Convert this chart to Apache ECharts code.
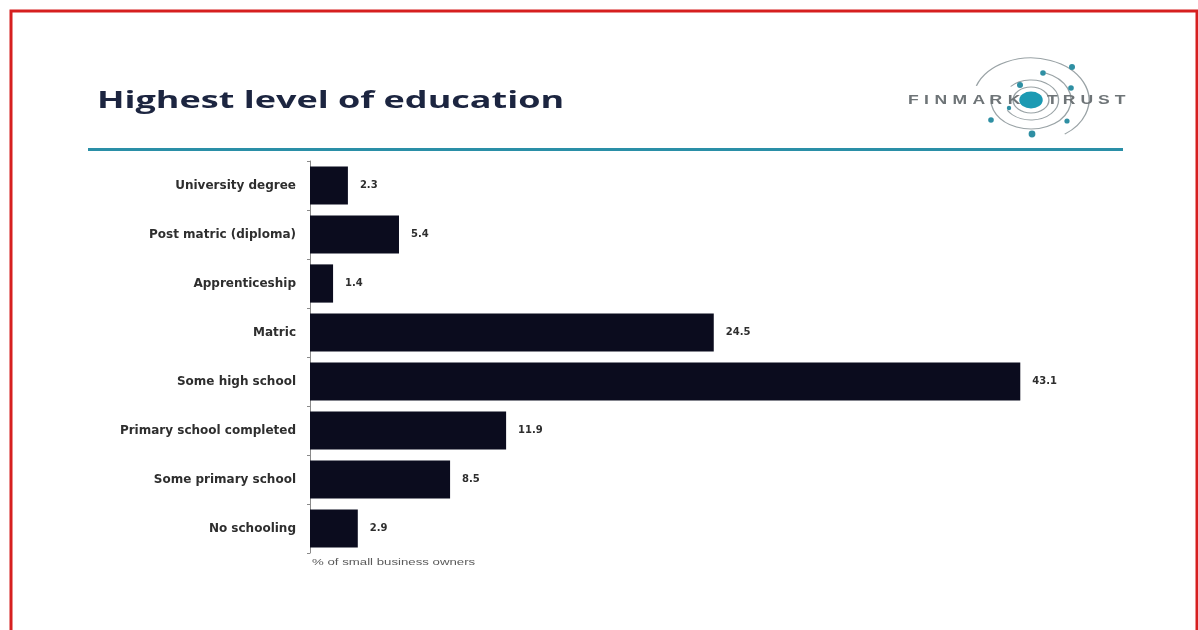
<!DOCTYPE html>
<html>
<head>
<meta charset="utf-8">
<script src="https://cdn.jsdelivr.net/npm/echarts@6/dist/echarts.min.js"></script>
<style>
  html, body { margin: 0; padding: 0; background: #ffffff; }
  #chart { width: 1198px; height: 630px; }
</style>
</head>
<body>
<div id="chart"></div>
<script>
// Education levels, top to bottom
const categories = [
  'University degree',
  'Post matric (diploma)',
  'Apprenticeship',
  'Matric',
  'Some high school',
  'Primary school completed',
  'Some primary school',
  'No schooling'
];
// Share of small business owners (%)
const shares = [2.3, 5.4, 1.4, 24.5, 43.1, 11.9, 8.5, 2.9];

const titleText = 'Highest level of education';
const axisNote = '% of small business owners';
const logoLeft = 'FINMARK';
const logoRight = 'TRUST';

const TEAL = '#2a8fa7';
const NAVY = '#0b0c1e';
const WIDE = 1.5; // horizontal stretch of the slide artwork

// Logo: spiral orbit rings around a filled dot, with satellites
const cx = 1031, cy = 100;
const ringArcs = [
  { r: 13, a0: 0, a1: Math.PI * 2 },
  { r: 20, a0: -2.4, a1: 2.6 },
  { r: 29, a0: -1.2, a1: 3.3 },
  { r: 42, a0: -2.8, a1: 0.95 }
].map(function (g) {
  return {
    type: 'arc',
    shape: { cx: 0, cy: 0, r: g.r, startAngle: g.a0, endAngle: g.a1 },
    style: { stroke: '#9aa3a6', lineWidth: 1, fill: null }
  };
});
const logoRings = {
  type: 'group', x: cx, y: cy, scaleX: 1.38, scaleY: 1,
  children: ringArcs.concat([
    { type: 'circle', shape: { cx: 0, cy: 0, r: 8.5 }, style: { fill: '#1b9ab3' } }
  ])
};
const satellites = [
  [1072, 67, 3], [1043, 73, 2.8], [1020, 85, 3], [1071, 88, 2.8],
  [991, 120, 2.8], [1032, 134, 3.4], [1067, 121, 2.6], [1009, 108, 2.2]
].map(function (s) {
  return { type: 'circle', shape: { cx: s[0], cy: s[1], r: s[2] }, style: { fill: '#2f8fa3' } };
});

// Letter-spaced wordmark: each glyph advances by its own width plus a fixed gap
const LOGO_SIZE = 13, LOGO_STRETCH = 1.35;
const glyphEm = { F: 0.611, I: 0.278, N: 0.722, M: 0.833, A: 0.667, R: 0.722, K: 0.667,
                  T: 0.611, U: 0.722, S: 0.667 };
function spacedWord(word, x0, gap) {
  let x = x0;
  return word.split('').map(function (ch) {
    const el = {
      type: 'text', x: x, y: 100, scaleX: LOGO_STRETCH,
      style: { text: ch, fill: '#6e7477', font: '600 ' + LOGO_SIZE + 'px "Liberation Sans", Arial, sans-serif',
               align: 'left', verticalAlign: 'middle' }
    };
    x += glyphEm[ch] * LOGO_SIZE * LOGO_STRETCH + gap;
    return el;
  });
}

const labelFont = '"DejaVu Sans", Verdana, sans-serif';

const chart = echarts.init(document.getElementById('chart'), null, { renderer: 'canvas' });
chart.setOption({
  backgroundColor: '#ffffff',
  animation: false,
  grid: { left: 310, top: 161, width: 824, height: 392, containLabel: false },
  xAxis: {
    type: 'value', min: 0, max: 50,
    axisLine: { show: false }, axisTick: { show: false },
    axisLabel: { show: false }, splitLine: { show: false }
  },
  yAxis: {
    type: 'category', data: categories, inverse: true,
    axisLine: { show: true, lineStyle: { color: '#8a8a8a', width: 1 } },
    axisTick: { show: true, length: 3, lineStyle: { color: '#8a8a8a' } },
    axisLabel: {
      margin: 14, color: '#2e2e2e', fontWeight: 'bold', fontSize: 12,
      fontFamily: labelFont
    }
  },
  series: [{
    type: 'bar', data: shares, barCategoryGap: '22%',
    itemStyle: { color: NAVY },
    label: {
      show: true, position: 'right', distance: 12,
      color: '#2e2e2e', fontWeight: 'bold', fontSize: 10,
      fontFamily: labelFont,
      formatter: function (p) { return p.value.toFixed(1); }
    }
  }],
  graphic: [
    { type: 'rect', shape: { x: 11, y: 11, width: 1186, height: 640 },
      style: { fill: null, stroke: '#d61f1f', lineWidth: 3 } },
    { type: 'text', x: 97, y: 101, scaleX: WIDE,
      style: { text: titleText, fill: '#1c2540',
               font: 'bold 24px "Open Sans", sans-serif',
               align: 'left', verticalAlign: 'middle' } },
    { type: 'rect', shape: { x: 88, y: 148, width: 1035, height: 3 }, style: { fill: TEAL } },
    { type: 'text', x: 312, y: 563, scaleX: 1.47,
      style: { text: axisNote, fill: '#5a5a5a', font: '9px "Liberation Sans", Arial, sans-serif',
               align: 'left', verticalAlign: 'middle' } },
    logoRings
  ].concat(satellites).concat(spacedWord(logoLeft, 908, 5.4)).concat(spacedWord(logoRight, 1047, 5))
});
</script>
</body>
</html>
